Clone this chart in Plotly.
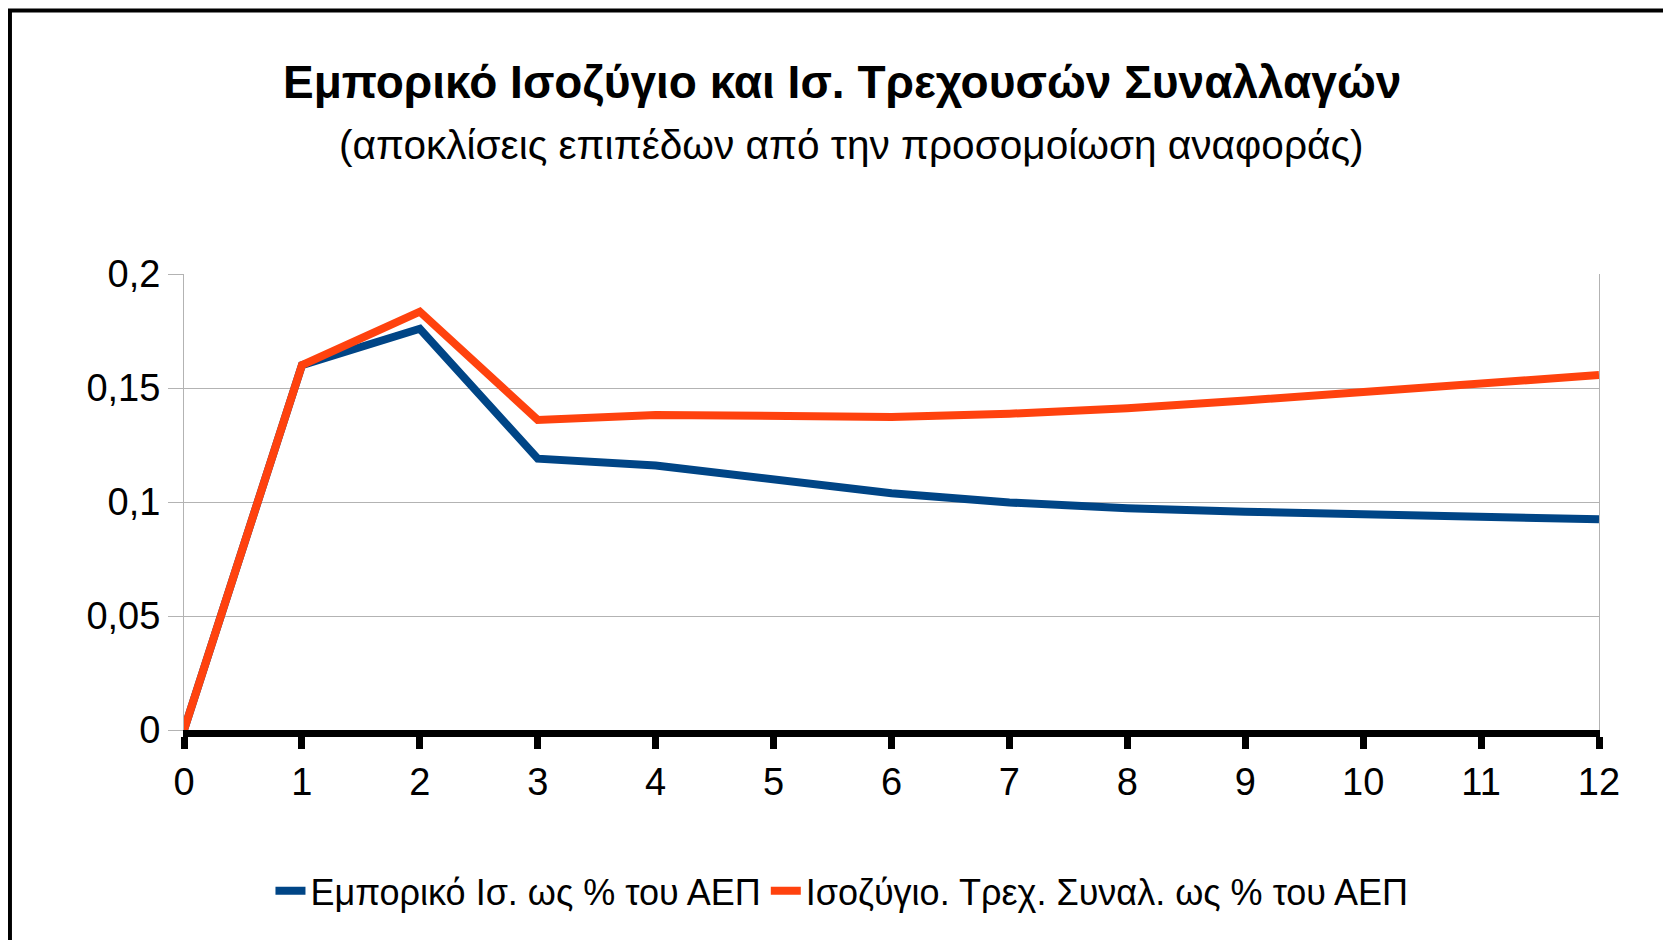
import plotly.graph_objects as go

# periods after the shock
periods = list(range(0, 13))

# deviations from the baseline simulation
trade_balance = [0, 0.16, 0.176, 0.119, 0.116, 0.1096, 0.1038, 0.0998, 0.0973, 0.0957, 0.0946, 0.0936, 0.0924]
current_account = [0, 0.16, 0.1835, 0.136, 0.1382, 0.1374, 0.1373, 0.1387, 0.1411, 0.1445, 0.1484, 0.152, 0.1557]

y_ticks = [0, 0.05, 0.1, 0.15, 0.2]

series_names = ["Εμπορικό Ισ. ως % του ΑΕΠ", "Ισοζύγιο. Τρεχ. Συναλ. ως % του ΑΕΠ"]
title = "Εμπορικό Ισοζύγιο και Ισ. Τρεχουσών Συναλλαγών"
subtitle = "(αποκλίσεις επιπέδων από την προσομοίωση αναφοράς)"

FONT = "Liberation Sans, Arial, sans-serif"

fig = go.Figure()
fig.add_trace(go.Scatter(x=periods, y=trade_balance, mode="lines", name=series_names[0],
                         line=dict(color="#004586", width=8)))
fig.add_trace(go.Scatter(x=periods, y=current_account, mode="lines", name=series_names[1],
                         line=dict(color="#ff420e", width=8)))

# plot area on screen: left 184, right 1599, top 274, bottom 730 (page has an 8px body margin)
fig.update_layout(
    width=1671, height=940,
    margin=dict(l=176, r=80, t=266, b=218),
    paper_bgcolor="white", plot_bgcolor="white",
    separators=",.",
    font=dict(family=FONT, size=38, color="black"),
    showlegend=True,
    legend=dict(orientation="h", x=0.465, xanchor="center", y=-0.353, yanchor="middle",
                font=dict(size=36), itemwidth=30, bgcolor="rgba(0,0,0,0)"),
    annotations=[
        dict(text="<b>" + title + "</b>", x=0.465, y=1.421, xref="paper", yref="paper",
             xanchor="center", yanchor="middle", showarrow=False, font=dict(size=46)),
        dict(text=subtitle, x=0.472, y=1.283, xref="paper", yref="paper",
             xanchor="center", yanchor="middle", showarrow=False, font=dict(size=40.6)),
    ],
    shapes=[
        # outer frame of the chart (runs off the right and bottom edge)
        dict(type="rect", xref="paper", yref="paper", x0=-0.123, x1=1.1, y0=-0.6, y1=1.578,
             line=dict(color="black", width=4), layer="below"),
    ],
)

fig.update_xaxes(
    range=[0, 12], tickvals=periods,
    showline=True, linecolor="black", linewidth=7,
    ticks="outside", tickcolor="black", tickwidth=7, ticklen=12,
    showgrid=False, zeroline=False, layer="below traces",
    tickfont=dict(size=38),
)
fig.update_yaxes(
    range=[0, 0.2], tickvals=y_ticks,
    showline=True, linecolor="#b3b3b3", linewidth=1, mirror=True,
    ticks="outside", tickcolor="#b3b3b3", ticklen=15,
    showgrid=True, gridcolor="#b3b3b3", gridwidth=1, zeroline=False,
    layer="below traces", tickfont=dict(size=38),
)

fig.write_html("out.html")
